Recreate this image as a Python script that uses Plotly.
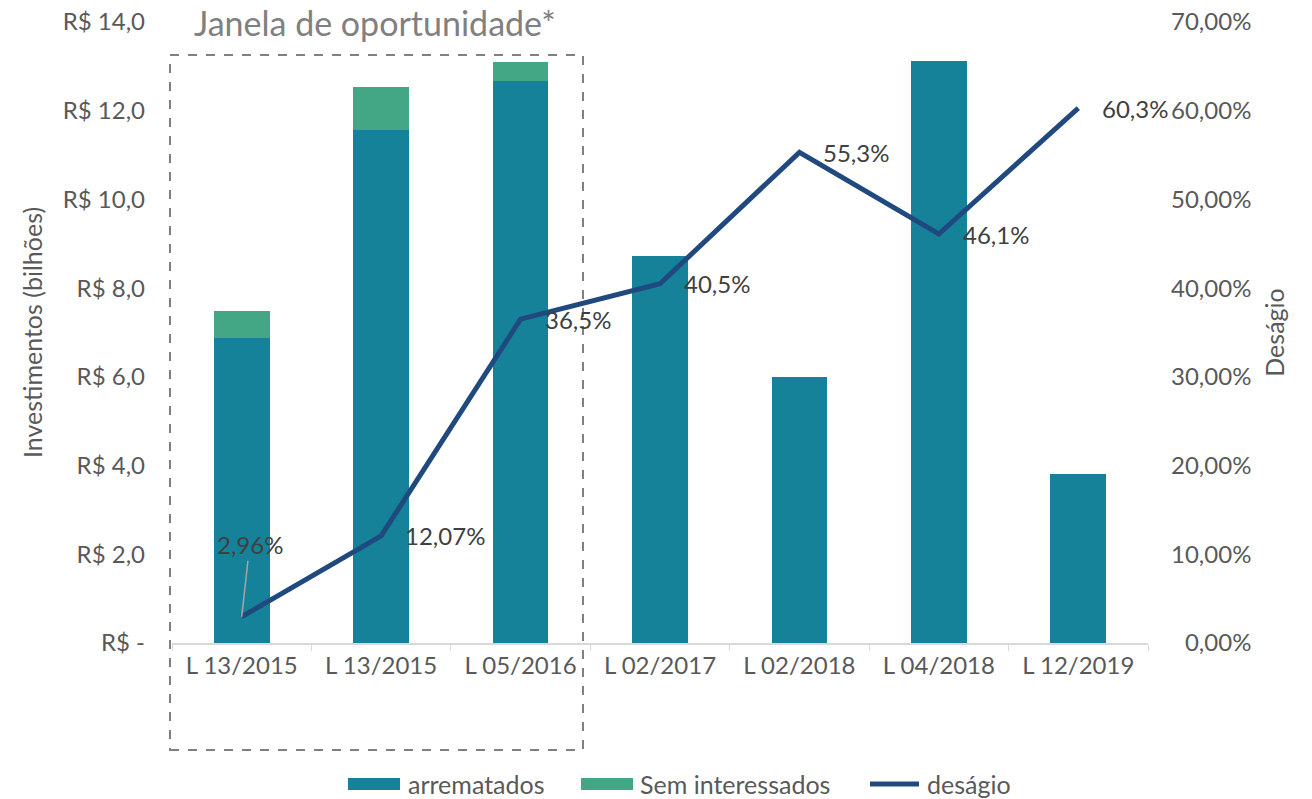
import plotly.graph_objects as go

categories = ["L 13/2015", "L 13/2015", "L 05/2016", "L 02/2017", "L 02/2018", "L 04/2018", "L 12/2019"]
arrematados = [6.88, 11.56, 12.67, 8.72, 6.0, 13.12, 3.81]
sem_interessados = [0.60, 0.97, 0.43, 0, 0, 0, 0]
desagio = [2.96, 12.07, 36.5, 40.5, 55.3, 46.1, 60.3]
desagio_labels = ["2,96%", "12,07%", "36,5%", "40,5%", "55,3%", "46,1%", "60,3%"]

left_ticks = [0, 2, 4, 6, 8, 10, 12, 14]
left_ticktext = ["R$ -", "R$ 2,0", "R$ 4,0", "R$ 6,0", "R$ 8,0", "R$ 10,0", "R$ 12,0", "R$ 14,0"]
right_ticks = [0, 10, 20, 30, 40, 50, 60, 70]
right_ticktext = ["\u20070,00%", "10,00%", "20,00%", "30,00%", "40,00%", "50,00%", "60,00%", "70,00%"]

series_names = ["arrematados", "Sem interessados", "deságio"]
series_colors = ["#16829A", "#43A685", "#204A7F"]

keys = [f"{c}#{i}" for i, c in enumerate(categories)]

FONT = "Lato"
TICK_COLOR = "#595959"
LABEL_COLOR = "#404040"
FS = 24

W, H = 1312, 799
ML, MR, MT, MB = 172, 164, 22, 156
PW, PH = W - ML - MR, H - MT - MB


def px_x(px):
    return (px - ML) / PW


def px_y(py):
    return (H - MB - py) / PH


fig = go.Figure()
fig.add_trace(go.Bar(
    x=keys, y=arrematados, name=series_names[0],
    marker=dict(color=series_colors[0], line=dict(width=0)),
    yaxis="y",
))
fig.add_trace(go.Bar(
    x=keys, y=sem_interessados, name=series_names[1],
    marker=dict(color=series_colors[1], line=dict(width=0)),
    yaxis="y",
))
fig.add_trace(go.Scatter(
    x=keys, y=desagio, name=series_names[2], mode="lines",
    line=dict(color=series_colors[2], width=5),
    yaxis="y2", cliponaxis=False,
))

# data labels
for i in range(1, len(keys)):
    fig.add_annotation(
        x=keys[i], y=desagio[i], xref="x", yref="y2",
        text=desagio_labels[i], showarrow=False,
        xanchor="left", yanchor="middle", xshift=22,
        font=dict(family=FONT, size=FS, color=LABEL_COLOR),
    )
fig.add_annotation(
    x=keys[0], y=desagio[0], xref="x", yref="y2",
    text=desagio_labels[0], showarrow=True, arrowhead=0, arrowwidth=1.5,
    arrowcolor="#A6A6A6", ax=8, ay=-72,
    font=dict(family=FONT, size=FS, color=LABEL_COLOR),
)

# "window of opportunity" box
fig.add_shape(
    type="rect", xref="paper", yref="paper",
    x0=px_x(170), x1=px_x(583), y0=px_y(750), y1=px_y(55),
    line=dict(color="#808080", width=2, dash="dash"),
    fillcolor="rgba(0,0,0,0)", layer="above",
)
fig.add_annotation(
    x=px_x(375), y=px_y(22), xref="paper", yref="paper",
    text="Janela de oportunidade*", showarrow=False,
    font=dict(family=FONT, size=34, color="#808080"),
    xanchor="center", yanchor="middle",
)

# legend (drawn manually to match swatch shapes and placement)
LEG_Y = 784
swatches = [(348, 400), (581, 633), (867, 922)]
text_x = [406, 638, 925]
for k in range(3):
    x0, x1 = swatches[k]
    if k < 2:
        fig.add_shape(type="rect", xref="paper", yref="paper",
                      x0=px_x(x0), x1=px_x(x1), y0=px_y(LEG_Y + 6), y1=px_y(LEG_Y - 6),
                      line=dict(width=0), fillcolor=series_colors[k])
    else:
        fig.add_shape(type="line", xref="paper", yref="paper",
                      x0=px_x(x0 + 3), x1=px_x(x1 - 3), y0=px_y(LEG_Y), y1=px_y(LEG_Y),
                      line=dict(width=5, color=series_colors[k]))
    fig.add_annotation(x=px_x(text_x[k]), y=px_y(LEG_Y), xref="paper", yref="paper",
                       text=series_names[k], showarrow=False,
                       xanchor="left", yanchor="middle",
                       font=dict(family=FONT, size=25, color=TICK_COLOR))

fig.update_layout(
    width=W, height=H,
    margin=dict(l=ML, r=MR, t=MT, b=MB),
    barmode="stack", bargap=0.6,
    plot_bgcolor="white", paper_bgcolor="white",
    font=dict(family=FONT, size=FS, color=TICK_COLOR),
    showlegend=False,
    xaxis=dict(
        type="category", tickvals=keys, ticktext=categories, automargin=False,
        range=[-0.5, len(keys) - 0.5],
        showline=True, linecolor="#D9D9D9", linewidth=1.5,
        ticks="outside", tickson="boundaries", ticklen=6, tickcolor="#D9D9D9",
        tickfont=dict(family=FONT, size=FS, color=TICK_COLOR),
        showgrid=False,
    ),
    yaxis=dict(
        range=[0, 14], tickvals=left_ticks, ticktext=left_ticktext, automargin=False,
        showgrid=False, zeroline=False, showline=False,
        ticks="", ticklabelstandoff=26,
        tickfont=dict(family=FONT, size=FS, color=TICK_COLOR),
        title=dict(text="Investimentos (bilhões)", font=dict(family=FONT, size=25, color=TICK_COLOR), standoff=12),
    ),
    yaxis2=dict(
        range=[0, 70], tickvals=right_ticks, ticktext=right_ticktext, automargin=False,
        overlaying="y", side="right",
        showgrid=False, zeroline=False, showline=False,
        ticks="", ticklabelstandoff=22,
        tickfont=dict(family=FONT, size=FS, color=TICK_COLOR),
        title=dict(text="Deságio", font=dict(family=FONT, size=25, color=TICK_COLOR), standoff=16),
    ),
)

fig.write_html("out.html", config={"displayModeBar": False},
               post_script="document.body.style.margin='0';")
